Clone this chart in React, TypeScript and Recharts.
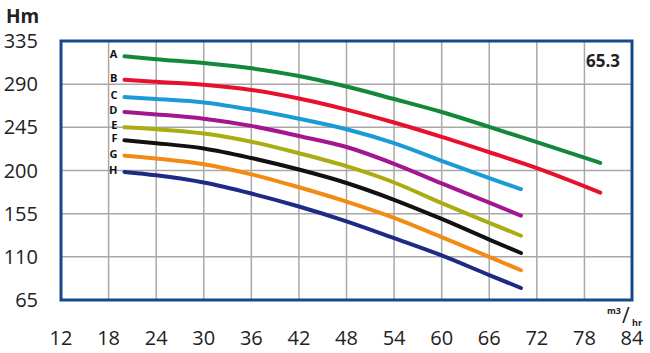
import React from "react";
import {
  LineChart,
  Line,
  XAxis,
  YAxis,
  CartesianGrid,
  ReferenceArea,
} from "recharts";

// flow (m3/hr) sampling points
const flowLong = [20, 24, 30, 36, 42, 48, 54, 60, 66, 72, 80];
const flowShort = [20, 24, 30, 36, 42, 48, 54, 60, 66, 70];

// head (Hm) per impeller curve
const headA = [319, 316, 312, 306.5, 298.5, 287.5, 274.5, 261, 245.5, 229.5, 208];
const headB = [294.5, 292.5, 289.5, 284, 275, 263.5, 250, 235, 219, 202.5, 177];
const headC = [276.5, 274.5, 271, 263.5, 254, 243, 228.5, 210, 192, 180.5];
const headD = [261, 258.5, 254, 246.5, 236, 224.5, 207, 186.5, 166.5, 153];
const headE = [245, 243, 238.5, 230, 218, 204.5, 187.5, 166, 145.5, 132];
const headF = [231.5, 228.5, 223, 213, 201, 187, 169.5, 149.5, 128, 114];
const headG = [215.5, 212.5, 206.5, 196, 182.5, 167.5, 150.5, 130.5, 110, 96];
const headH = [198.5, 195, 187.5, 176, 162.5, 147, 129.5, 111.5, 91, 77.5];

const curveNames = ["A", "B", "C", "D", "E", "F", "G", "H"];
const curveColors = [
  "#13883b",
  "#e8112d",
  "#1a9bd7",
  "#a3168f",
  "#a9ad12",
  "#111111",
  "#f28a14",
  "#1f2a86",
];

const xTicks = [12, 18, 24, 30, 36, 42, 48, 54, 60, 66, 72, 78, 84];
const yTicks = [65, 110, 155, 200, 245, 290, 335];

const toPoints = (flows: number[], heads: number[]) =>
  flows.map((flow, i) => ({ flow, head: heads[i] }));

const curves = [
  toPoints(flowLong, headA),
  toPoints(flowLong, headB),
  toPoints(flowShort, headC),
  toPoints(flowShort, headD),
  toPoints(flowShort, headE),
  toPoints(flowShort, headF),
  toPoints(flowShort, headG),
  toPoints(flowShort, headH),
];

const FONT = "'Open Sans', 'DejaVu Sans', sans-serif";

// letter tag drawn just left of each curve's first point
function CurveLabel(props: any) {
  const { x, y, index, name } = props;
  if (index !== 0) return null;
  return (
    <text
      x={x - 7}
      y={y - 1}
      textAnchor="end"
      dominantBaseline="middle"
      fontFamily={FONT}
      fontWeight={700}
      fontSize={11}
      fill="#111"
    >
      {name}
    </text>
  );
}

export default function App() {
  return (
    <div
      style={{
        position: "absolute",
        left: 0,
        top: 0,
        width: 650,
        height: 353,
        background: "#fff",
        fontFamily: FONT,
      }}
    >
      <LineChart
        width={650}
        height={353}
        margin={{ top: 41, right: 18, bottom: 23, left: 0 }}
      >
        <CartesianGrid stroke="#a8a8a8" strokeWidth={1.5} />
        <XAxis
          type="number"
          dataKey="flow"
          domain={[12, 84]}
          ticks={xTicks}
          interval={0}
          height={30}
          axisLine={false}
          tickLine={false}
          tickSize={0}
          tickMargin={31}
          tick={{ fill: "#222", fontSize: 20, fontFamily: FONT }}
        />
        <YAxis
          type="number"
          domain={[65, 335]}
          ticks={yTicks}
          interval={0}
          width={61}
          axisLine={false}
          tickLine={false}
          tickSize={0}
          tickMargin={23}
          tick={{ fill: "#222", fontSize: 20, fontFamily: FONT }}
        />
        <ReferenceArea
          x1={12}
          x2={84}
          y1={65}
          y2={335}
          fill="none"
          fillOpacity={0}
          stroke="#144a8c"
          strokeWidth={3}
          ifOverflow="visible"
        />
        {curves.map((pts, i) => (
          <Line
            key={curveNames[i]}
            data={pts}
            dataKey="head"
            type="monotone"
            stroke={curveColors[i]}
            strokeWidth={4}
            strokeLinecap="round"
            dot={false}
            activeDot={false}
            isAnimationActive={false}
            label={(p: any) => <CurveLabel {...p} name={curveNames[i]} />}
          />
        ))}
      </LineChart>

      <div
        style={{
          position: "absolute",
          left: 6,
          top: 3,
          fontWeight: 700,
          fontSize: 19,
          color: "#222",
        }}
      >
        Hm
      </div>
      <div
        style={{
          position: "absolute",
          left: 586,
          top: 49,
          fontWeight: 700,
          fontSize: 17,
          color: "#222",
        }}
      >
        65.3
      </div>
      <div
        style={{
          position: "absolute",
          left: 607,
          top: 302,
          width: 42,
          height: 24,
          color: "#222",
          fontWeight: 700,
          lineHeight: 1,
        }}
      >
        <span style={{ position: "absolute", left: 0, top: 4, fontSize: 9 }}>m3</span>
        <span style={{ position: "absolute", left: 15, top: 3, fontSize: 21, fontWeight: 400 }}>/</span>
        <span style={{ position: "absolute", left: 25, top: 16, fontSize: 9 }}>hr</span>
      </div>
    </div>
  );
}
